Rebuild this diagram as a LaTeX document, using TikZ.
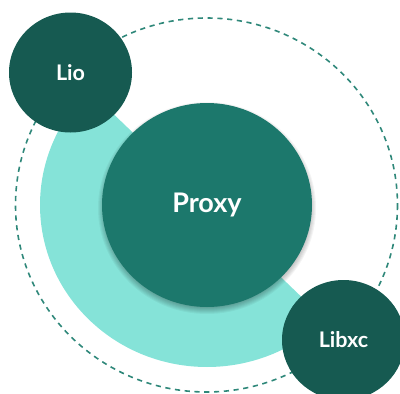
\documentclass[tikz,border=0pt]{standalone}
\usepackage{fontspec}
\setmainfont{Lato}
\usetikzlibrary{shapes.geometric}

\definecolor{hubteal}{HTML}{1C786C}
\definecolor{satteal}{HTML}{165A51}
\definecolor{ringteal}{HTML}{85E3D8}
\definecolor{orbitteal}{HTML}{2F887A}

\begin{document}
\begin{tikzpicture}[x=1pt,y=-1pt,
  bubble/.style={ellipse, inner sep=0pt, text=white, font=\bfseries},
  satellite/.style={bubble, fill=satteal, minimum width=123pt, minimum height=120pt, font=\bfseries\fontsize{21.5}{24}\selectfont},
  core/.style={bubble, fill=hubteal, minimum width=210pt, minimum height=204pt, font=\bfseries\fontsize{27}{30}\selectfont},
  orbit/.style={draw=orbitteal, line width=1.6pt, dash pattern=on 5.2pt off 4.6pt},
  haze/.style={fill=black, opacity=0.045}]
\useasboundingbox (0,0) rectangle (400,394);

% outer dashed orbit
\draw[orbit] (206.5,205) ellipse [x radius=191, y radius=187];

% light half ring from the lower satellite round to the upper one
\fill[ringteal] (207,205) ++(45:167 and 162)
  arc[start angle=45, end angle=225, x radius=167, y radius=162]
  -- ++(45:75 and 72)
  arc[start angle=225, end angle=45, x radius=92, y radius=90]
  -- cycle;

% soft shadow under the hub
\foreach \k in {0,...,8}
  \fill[haze] (207,208) ellipse [x radius={101+\k}, y radius={98+\k}];

% satellites
\node[satellite] (lio) at (70.5,72.5) {Lio};
\node[satellite] (libxc) at (343.5,340) {Libxc};

% central hub
\node[core] (proxy) at (207,205) {Proxy};
\end{tikzpicture}
\end{document}
